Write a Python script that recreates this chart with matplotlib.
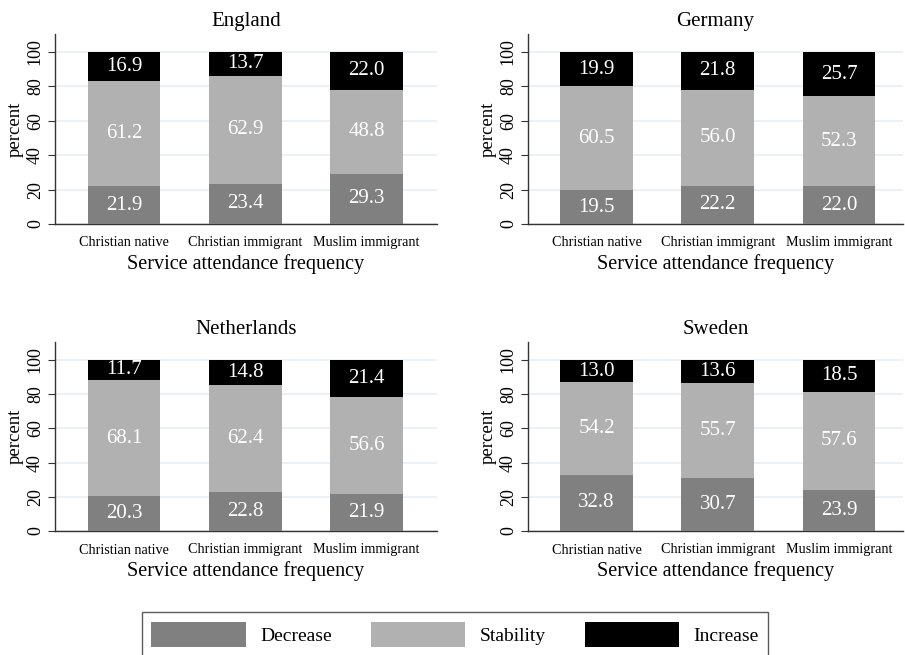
import matplotlib
matplotlib.use("Agg")
import matplotlib.pyplot as plt
from matplotlib.patches import Patch

plt.rcParams['font.family'] = ['Liberation Serif', 'DejaVu Serif']

countries = ["England", "Germany", "Netherlands", "Sweden"]
categories = ["Christian native", "Christian immigrant", "Muslim immigrant"]
series_names = ["Decrease", "Stability", "Increase"]

decrease = {
    "England": [21.9, 23.4, 29.3],
    "Germany": [19.5, 22.2, 22.0],
    "Netherlands": [20.3, 22.8, 21.9],
    "Sweden": [32.8, 30.7, 23.9],
}
stability = {
    "England": [61.2, 62.9, 48.8],
    "Germany": [60.5, 56.0, 52.3],
    "Netherlands": [68.1, 62.4, 56.6],
    "Sweden": [54.2, 55.7, 57.6],
}
increase = {
    "England": [16.9, 13.7, 22.0],
    "Germany": [19.9, 21.8, 25.7],
    "Netherlands": [11.7, 14.8, 21.4],
    "Sweden": [13.0, 13.6, 18.5],
}
yticks = [0, 20, 40, 60, 80, 100]

colors = ["#808080", "#b1b1b1", "#000000"]
grid_color = "#e8eff3"

W, H = 905, 655
fig = plt.figure(figsize=(W / 100, H / 100), dpi=100)

# axes positions in pixels: (left, top_of_axis, right, bottom_of_axis)
pix = {
    "England": (55, 34, 437, 224),
    "Germany": (528, 34, 903, 224),
    "Netherlands": (55, 342, 437, 531),
    "Sweden": (528, 342, 903, 531),
}

for c in countries:
    l, t, r, b = pix[c]
    ax = fig.add_axes([l / W, 1 - b / H, (r - l) / W, (b - t) / H])
    x = list(range(len(categories)))
    bottoms = [0, 0, 0]
    segs = [decrease[c], stability[c], increase[c]]
    for vals, col in zip(segs, colors):
        ax.bar(x, vals, width=0.6, bottom=bottoms, color=col, edgecolor="none", zorder=3)
        for xi, v, b0 in zip(x, vals, bottoms):
            ax.text(xi, b0 + v / 2, f"{v:.1f}", ha="center", va="center",
                    color="white", fontsize=15, zorder=4)
        bottoms = [b0 + v for b0, v in zip(bottoms, vals)]
    span_px = r - l
    unit_px = 121.3
    x0 = -69 / unit_px if c in ("England", "Netherlands") else -68.5 / unit_px
    ax.set_xlim(x0, x0 + span_px / unit_px)
    ax.set_ylim(0, 110.5)
    ax.set_yticks(yticks)
    ax.set_yticklabels([str(v) for v in yticks], rotation=90, va="center", fontsize=13)
    ax.set_xticks(x)
    ax.set_xticklabels(categories, fontsize=10.2)
    ax.tick_params(axis="x", length=0, pad=9)
    ax.tick_params(axis="y", length=5, width=0.8, color="#333333", pad=3)
    for sp in ["top", "right"]:
        ax.spines[sp].set_visible(False)
    for sp in ["left", "bottom"]:
        ax.spines[sp].set_color("#333333")
        ax.spines[sp].set_linewidth(1.0)
    ax.yaxis.grid(True, color=grid_color, linewidth=1.2, zorder=0)
    ax.set_axisbelow(True)
    ax.set_ylabel("percent", fontsize=13.5, labelpad=2)
    ax.set_xlabel("Service attendance frequency", fontsize=14.5, labelpad=3)
    ax.set_title(c, fontsize=15, pad=6)

handles = [Patch(facecolor=col, edgecolor="none") for col in colors]
leg = fig.legend(handles, series_names, loc="upper center", ncol=3,
                 bbox_to_anchor=(455 / W, 1 - 612 / H), fontsize=14,
                 frameon=True, fancybox=False, edgecolor="#333333",
                 handlelength=4.85, handleheight=1.65, handletextpad=0.75,
                 columnspacing=2.0, borderpad=0.5, borderaxespad=0)
leg.get_frame().set_linewidth(1.0)

fig.savefig("out.png", dpi=100, facecolor="white")
